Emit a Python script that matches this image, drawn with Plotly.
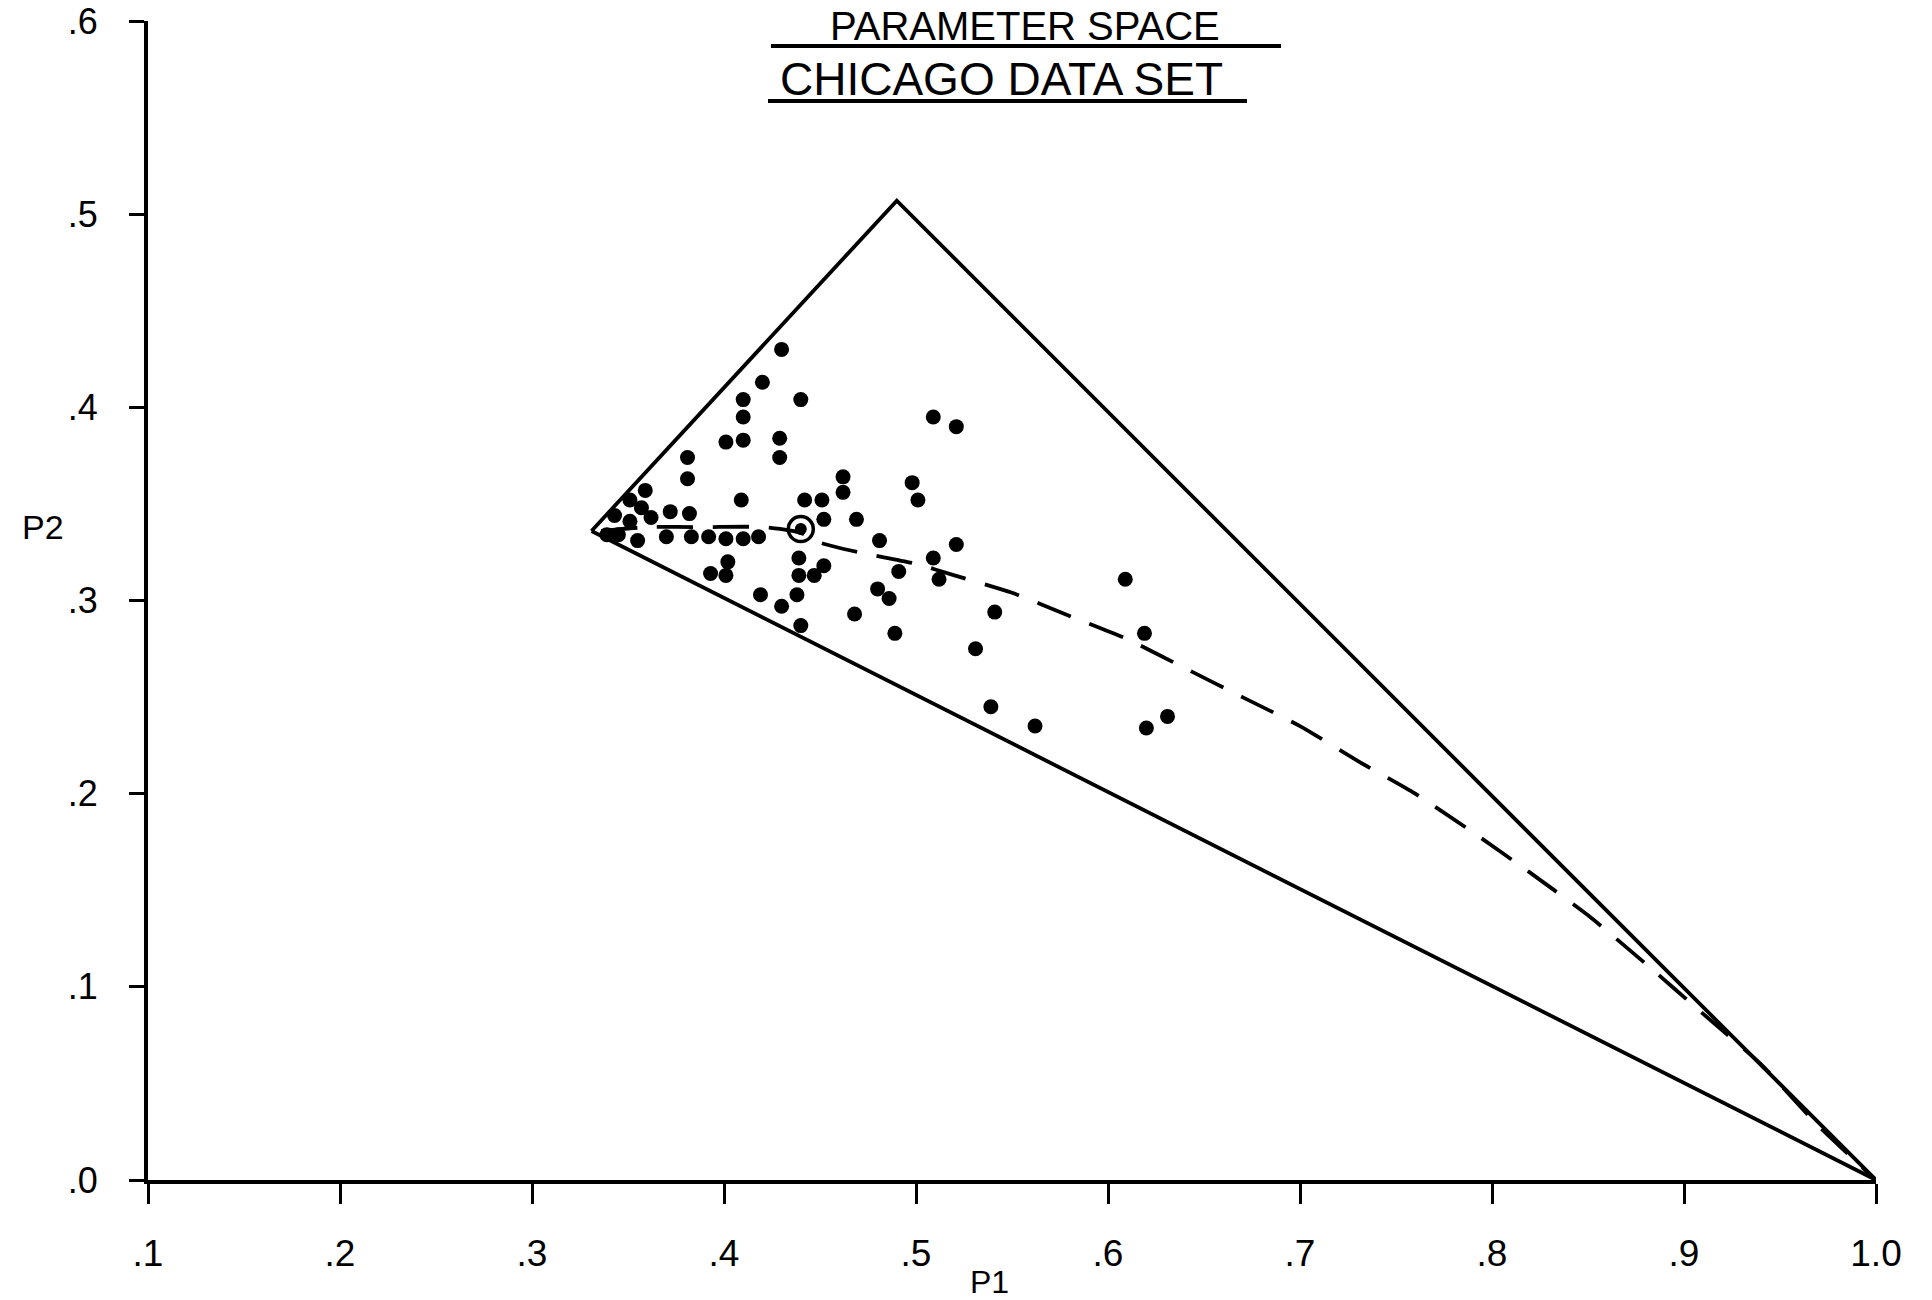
import plotly.graph_objects as go

# ---- data ----
p1 = [0.430, 0.420, 0.440, 0.410, 0.410, 0.401, 0.410, 0.429, 0.429, 0.381, 0.381,
      0.509, 0.521, 0.462, 0.462, 0.498, 0.501, 0.409, 0.442, 0.451, 0.452, 0.469,
      0.359, 0.351, 0.357, 0.343, 0.362, 0.372, 0.382, 0.351, 0.339, 0.345, 0.355,
      0.370, 0.383, 0.392, 0.401, 0.410, 0.418,
      0.481, 0.521, 0.509, 0.512, 0.491, 0.439, 0.452, 0.439, 0.447, 0.402, 0.401,
      0.393, 0.419, 0.438, 0.430, 0.440, 0.480, 0.486, 0.468, 0.489, 0.531, 0.541,
      0.609, 0.619, 0.539, 0.562, 0.620, 0.631]
p2 = [0.430, 0.413, 0.404, 0.404, 0.395, 0.382, 0.383, 0.384, 0.374, 0.374, 0.363,
      0.395, 0.390, 0.364, 0.356, 0.361, 0.352, 0.352, 0.352, 0.352, 0.342, 0.342,
      0.357, 0.352, 0.348, 0.344, 0.343, 0.346, 0.345, 0.341, 0.334, 0.334, 0.331,
      0.333, 0.333, 0.333, 0.332, 0.332, 0.333,
      0.331, 0.329, 0.322, 0.311, 0.315, 0.322, 0.318, 0.313, 0.313, 0.320, 0.313,
      0.314, 0.303, 0.303, 0.297, 0.287, 0.306, 0.301, 0.293, 0.283, 0.275, 0.294,
      0.311, 0.283, 0.245, 0.235, 0.234, 0.240]

circled_p1 = [0.440]
circled_p2 = [0.337]

tri_p1 = [0.331, 0.490, 1.0, 0.331]
tri_p2 = [0.336, 0.507, 0.0, 0.336]

curve_p1 = [0.336, 0.36, 0.39, 0.42, 0.44, 0.45, 0.47, 0.50, 0.52, 0.55, 0.58, 0.61,
            0.64, 0.67, 0.70, 0.73, 0.76, 0.79, 0.82, 0.85, 0.88, 0.91, 0.94, 0.97, 1.0]
curve_p2 = [0.336, 0.338, 0.338, 0.338, 0.335, 0.330, 0.325, 0.319, 0.313, 0.304, 0.292, 0.280,
            0.265, 0.250, 0.235, 0.217, 0.200, 0.180, 0.159, 0.137, 0.112, 0.086, 0.060, 0.028, 0.0]

x_ticks = [0.1, 0.2, 0.3, 0.4, 0.5, 0.6, 0.7, 0.8, 0.9, 1.0]
x_ticktext = [".1", ".2", ".3", ".4", ".5", ".6", ".7", ".8", ".9", "1.0"]
y_ticks = [0.0, 0.1, 0.2, 0.3, 0.4, 0.5, 0.6]
y_ticktext = [".0", ".1", ".2", ".3", ".4", ".5", ".6"]

FONT = "Liberation Sans, Arial, sans-serif"

fig = go.Figure()

fig.add_trace(go.Scatter(x=tri_p1, y=tri_p2, mode="lines",
                         line=dict(color="black", width=3.8), hoverinfo="skip"))
fig.add_trace(go.Scatter(x=curve_p1, y=curve_p2, mode="lines",
                         line=dict(color="black", width=3.8, dash="36px,20px", shape="spline", smoothing=0.6),
                         hoverinfo="skip"))
fig.add_trace(go.Scatter(x=p1, y=p2, mode="markers",
                         marker=dict(color="black", size=15, line=dict(width=0))))
fig.add_trace(go.Scatter(x=circled_p1, y=circled_p2, mode="markers",
                         marker=dict(symbol="circle-open", color="black", size=25, line=dict(width=3.5, color="black"))))
fig.add_trace(go.Scatter(x=circled_p1, y=circled_p2, mode="markers",
                         marker=dict(color="black", size=12, line=dict(width=0))))

fig.update_xaxes(range=[0.1, 1.0], tickvals=x_ticks, ticktext=x_ticktext,
                 showline=True, linecolor="black", linewidth=3.8,
                 ticks="outside", ticklen=20, tickwidth=3, tickcolor="black",
                 ticklabelstandoff=18,
                 showgrid=False, zeroline=False,
                 tickfont=dict(family=FONT, size=37, color="black"))
fig.update_yaxes(range=[0.0, 0.6], tickvals=y_ticks, ticktext=y_ticktext,
                 showline=True, linecolor="black", linewidth=3.8,
                 ticks="outside", ticklen=15, tickwidth=3, tickcolor="black",
                 ticklabelstandoff=24,
                 showgrid=False, zeroline=False,
                 tickfont=dict(family=FONT, size=36, color="black"))

annotations = [
    dict(text="PARAMETER SPACE", x=0.5075, y=0.9957, xref="paper", yref="paper",
         xanchor="center", yanchor="middle", showarrow=False,
         font=dict(family=FONT, size=40, color="black")),
    dict(text="CHICAGO DATA SET", x=0.494, y=0.950, xref="paper", yref="paper",
         xanchor="center", yanchor="middle", showarrow=False,
         font=dict(family=FONT, size=46, color="black")),
    dict(text="P2", x=-0.0608, y=0.5634, xref="paper", yref="paper",
         xanchor="center", yanchor="middle", showarrow=False,
         font=dict(family=FONT, size=34, color="black")),
    dict(text="P1", x=0.4867, y=-0.088, xref="paper", yref="paper",
         xanchor="center", yanchor="middle", showarrow=False,
         font=dict(family=FONT, size=32, color="black")),
]

shapes = [
    dict(type="line", xref="paper", yref="paper", x0=0.3605, x1=0.6557, y0=0.9784, y1=0.9784,
         line=dict(color="black", width=4)),
    dict(type="line", xref="paper", yref="paper", x0=0.3588, x1=0.636, y0=0.931, y1=0.931,
         line=dict(color="black", width=4)),
]

fig.update_layout(
    width=1932, height=1300,
    margin=dict(l=148, r=56, t=21, b=120, autoexpand=False),
    paper_bgcolor="white", plot_bgcolor="white",
    showlegend=False,
    annotations=annotations,
    shapes=shapes,
)
fig.update_traces(cliponaxis=False)

fig.write_html("out.html", config={"displayModeBar": False},
               post_script="document.body.style.margin='0';")
